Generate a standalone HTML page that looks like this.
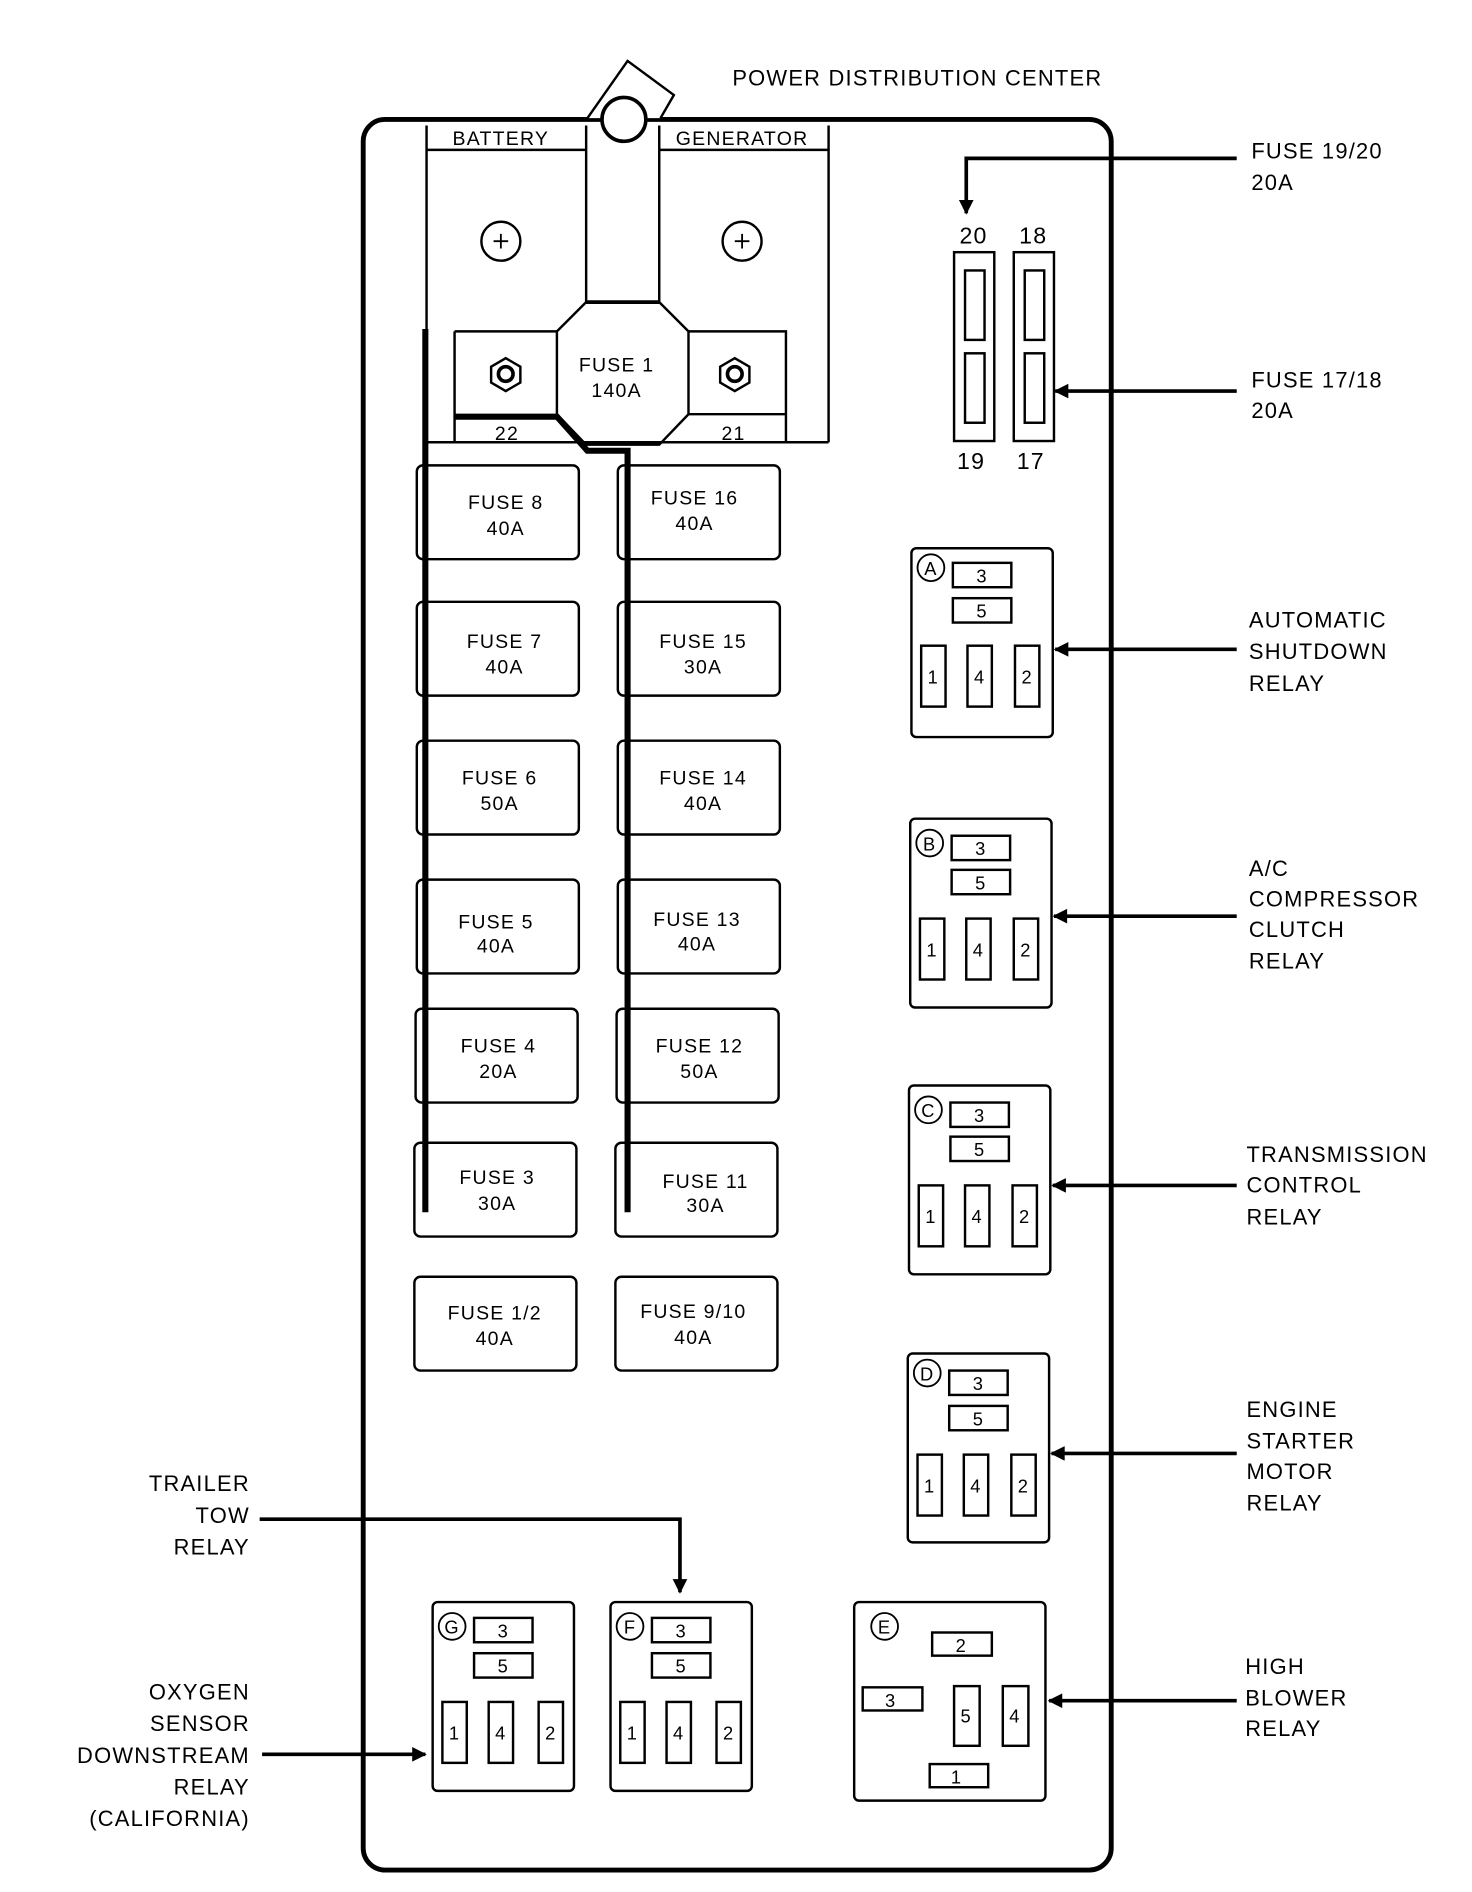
<!DOCTYPE html>
<html><head><meta charset="utf-8"><style>
html,body{margin:0;padding:0;background:#fff}
svg{display:block}
text{font-family:"Liberation Sans",sans-serif;fill:#000;letter-spacing:1px}
</style></head><body>
<svg width="1472" height="1892" viewBox="0 0 1208 1553" xmlns="http://www.w3.org/2000/svg">
<defs>
<marker id="ah" viewBox="0 0 10 10" refX="9" refY="5" markerWidth="16" markerHeight="12" orient="auto" markerUnits="userSpaceOnUse"><path d="M0,0L10,5L0,10z" fill="#000"/></marker>
</defs>
<g fill="none" stroke="#000">
<rect x="298" y="98" width="614" height="1437" rx="18" stroke-width="4"/>
<g fill="#fff" stroke-width="2"><path d="M482,97 L515,50 L553,78 L542,97"/></g>
<circle cx="512" cy="98" r="18" stroke-width="3" fill="#fff"/>
<g stroke-width="2">
<path d="M350,103V363M481,103V248M541,103V248M680,103V363M350,363H680"/>
<path d="M350,123H481M541,123H680"/>
<path d="M481,248H541L565,272V340L541,365H481L457,340V272Z" stroke-width="2"/>
<path d="M373,272H457M373,272V363M565,272H645V363M565,340H645"/>
<circle cx="411" cy="198" r="16"/><circle cx="609" cy="198" r="16"/>
<path d="M411,192v12M405,198h12M609,192v12M603,198h12" stroke-width="1.5"/>
<path d="M415,294l12,7v13l-12,7l-12,-7v-13z"/><circle cx="415" cy="307" r="6" stroke-width="3"/>
<path d="M603,294l12,7v13l-12,7l-12,-7v-13z"/><circle cx="603" cy="307" r="6" stroke-width="3"/>
</g>
<path d="M481,248H541" stroke-width="3"/>
<path d="M349,270V995" stroke-width="5"/>
<path d="M373,342H457L482,370H515V995" stroke-width="5"/>
<g stroke-width="2">
<rect x="342" y="382" width="133" height="77" rx="5"/>
<rect x="342" y="494" width="133" height="77" rx="5"/>
<rect x="342" y="608" width="133" height="77" rx="5"/>
<rect x="342" y="722" width="133" height="77" rx="5"/>
<rect x="341" y="828" width="133" height="77" rx="5"/>
<rect x="340" y="938" width="133" height="77" rx="5"/>
<rect x="340" y="1048" width="133" height="77" rx="5"/>
<rect x="507" y="382" width="133" height="77" rx="5"/>
<rect x="507" y="494" width="133" height="77" rx="5"/>
<rect x="507" y="608" width="133" height="77" rx="5"/>
<rect x="507" y="722" width="133" height="77" rx="5"/>
<rect x="506" y="828" width="133" height="77" rx="5"/>
<rect x="505" y="938" width="133" height="77" rx="5"/>
<rect x="505" y="1048" width="133" height="77" rx="5"/>
</g>
<g stroke-width="2">
<rect x="783" y="207" width="33" height="155"/><rect x="832" y="207" width="33" height="155"/>
<rect x="792" y="222" width="16" height="57"/><rect x="792" y="290" width="16" height="57"/>
<rect x="841" y="222" width="16" height="57"/><rect x="841" y="290" width="16" height="57"/>
</g>
<g stroke-width="2">
<rect x="748" y="450" width="116" height="155" rx="4"/>
<rect x="747" y="672" width="116" height="155" rx="4"/>
<rect x="746" y="891" width="116" height="155" rx="4"/>
<rect x="745" y="1111" width="116" height="155" rx="4"/>
<rect x="355" y="1315" width="116" height="155" rx="4"/>
<rect x="501" y="1315" width="116" height="155" rx="4"/>
<rect x="701" y="1315" width="157" height="163" rx="4"/>
</g>
<g stroke-width="3">
<path d="M1015,130H793V175" marker-end="url(#ah)"/>
<path d="M1015,321H866" marker-end="url(#ah)"/>
<path d="M1015,533H866" marker-end="url(#ah)"/>
<path d="M1015,752H865" marker-end="url(#ah)"/>
<path d="M1015,973H864" marker-end="url(#ah)"/>
<path d="M1015,1193H863" marker-end="url(#ah)"/>
<path d="M1015,1396H861" marker-end="url(#ah)"/>
<path d="M213,1247H558V1307" marker-end="url(#ah)"/>
<path d="M215,1440H349" marker-end="url(#ah)"/>
</g>
</g>
<g font-size="15" text-anchor="middle">
<g transform="translate(748,450)"><circle cx="16" cy="16" r="11" fill="none" stroke="#000" stroke-width="1.5"/><text x="16" y="22">A</text><rect x="34" y="12" width="48" height="20" fill="none" stroke="#000" stroke-width="2"/><text x="58" y="28">3</text><rect x="34" y="41" width="48" height="20" fill="none" stroke="#000" stroke-width="2"/><text x="58" y="57">5</text><rect x="8" y="80" width="20" height="50" fill="none" stroke="#000" stroke-width="2"/><text x="18" y="111">1</text><rect x="46" y="80" width="20" height="50" fill="none" stroke="#000" stroke-width="2"/><text x="56" y="111">4</text><rect x="85" y="80" width="20" height="50" fill="none" stroke="#000" stroke-width="2"/><text x="95" y="111">2</text></g>
<g transform="translate(747,672)"><circle cx="16" cy="20" r="11" fill="none" stroke="#000" stroke-width="1.5"/><text x="16" y="26">B</text><rect x="34" y="14" width="48" height="20" fill="none" stroke="#000" stroke-width="2"/><text x="58" y="30">3</text><rect x="34" y="42" width="48" height="20" fill="none" stroke="#000" stroke-width="2"/><text x="58" y="58">5</text><rect x="8" y="82" width="20" height="50" fill="none" stroke="#000" stroke-width="2"/><text x="18" y="113">1</text><rect x="46" y="82" width="20" height="50" fill="none" stroke="#000" stroke-width="2"/><text x="56" y="113">4</text><rect x="85" y="82" width="20" height="50" fill="none" stroke="#000" stroke-width="2"/><text x="95" y="113">2</text></g>
<g transform="translate(746,891)"><circle cx="16" cy="20" r="11" fill="none" stroke="#000" stroke-width="1.5"/><text x="16" y="26">C</text><rect x="34" y="14" width="48" height="20" fill="none" stroke="#000" stroke-width="2"/><text x="58" y="30">3</text><rect x="34" y="42" width="48" height="20" fill="none" stroke="#000" stroke-width="2"/><text x="58" y="58">5</text><rect x="8" y="82" width="20" height="50" fill="none" stroke="#000" stroke-width="2"/><text x="18" y="113">1</text><rect x="46" y="82" width="20" height="50" fill="none" stroke="#000" stroke-width="2"/><text x="56" y="113">4</text><rect x="85" y="82" width="20" height="50" fill="none" stroke="#000" stroke-width="2"/><text x="95" y="113">2</text></g>
<g transform="translate(745,1111)"><circle cx="16" cy="16" r="11" fill="none" stroke="#000" stroke-width="1.5"/><text x="16" y="22">D</text><rect x="34" y="14" width="48" height="20" fill="none" stroke="#000" stroke-width="2"/><text x="58" y="30">3</text><rect x="34" y="43" width="48" height="20" fill="none" stroke="#000" stroke-width="2"/><text x="58" y="59">5</text><rect x="8" y="83" width="20" height="50" fill="none" stroke="#000" stroke-width="2"/><text x="18" y="114">1</text><rect x="46" y="83" width="20" height="50" fill="none" stroke="#000" stroke-width="2"/><text x="56" y="114">4</text><rect x="85" y="83" width="20" height="50" fill="none" stroke="#000" stroke-width="2"/><text x="95" y="114">2</text></g>
<g transform="translate(355,1315)"><circle cx="16" cy="20" r="11" fill="none" stroke="#000" stroke-width="1.5"/><text x="16" y="26">G</text><rect x="34" y="13" width="48" height="20" fill="none" stroke="#000" stroke-width="2"/><text x="58" y="29">3</text><rect x="34" y="42" width="48" height="20" fill="none" stroke="#000" stroke-width="2"/><text x="58" y="58">5</text><rect x="8" y="82" width="20" height="50" fill="none" stroke="#000" stroke-width="2"/><text x="18" y="113">1</text><rect x="46" y="82" width="20" height="50" fill="none" stroke="#000" stroke-width="2"/><text x="56" y="113">4</text><rect x="87" y="82" width="20" height="50" fill="none" stroke="#000" stroke-width="2"/><text x="97" y="113">2</text></g>
<g transform="translate(501,1315)"><circle cx="16" cy="20" r="11" fill="none" stroke="#000" stroke-width="1.5"/><text x="16" y="26">F</text><rect x="34" y="13" width="48" height="20" fill="none" stroke="#000" stroke-width="2"/><text x="58" y="29">3</text><rect x="34" y="42" width="48" height="20" fill="none" stroke="#000" stroke-width="2"/><text x="58" y="58">5</text><rect x="8" y="82" width="20" height="50" fill="none" stroke="#000" stroke-width="2"/><text x="18" y="113">1</text><rect x="46" y="82" width="20" height="50" fill="none" stroke="#000" stroke-width="2"/><text x="56" y="113">4</text><rect x="87" y="82" width="20" height="50" fill="none" stroke="#000" stroke-width="2"/><text x="97" y="113">2</text></g>
<g transform="translate(701,1315)"><circle cx="25" cy="20" r="11" fill="none" stroke="#000" stroke-width="1.5"/><text x="25" y="26">E</text><rect x="64" y="25" width="49" height="19" fill="none" stroke="#000" stroke-width="2"/><text x="88" y="41">2</text><rect x="7" y="70" width="49" height="19" fill="none" stroke="#000" stroke-width="2"/><text x="30" y="86">3</text><rect x="82" y="69" width="21" height="49" fill="none" stroke="#000" stroke-width="2"/><text x="92" y="99">5</text><rect x="122" y="69" width="21" height="49" fill="none" stroke="#000" stroke-width="2"/><text x="132" y="99">4</text><rect x="62" y="133" width="48" height="19" fill="none" stroke="#000" stroke-width="2"/><text x="84" y="149">1</text></g>
</g>
<g font-size="16" text-anchor="middle">
<text x="411" y="119">BATTERY</text><text x="609" y="119">GENERATOR</text>
<text x="506" y="305">FUSE 1</text><text x="506" y="326">140A</text>
<text x="416" y="361">22</text><text x="602" y="361">21</text>
<text x="415" y="418">FUSE 8</text><text x="415" y="439">40A</text>
<text x="414" y="532">FUSE 7</text><text x="414" y="553">40A</text>
<text x="410" y="644">FUSE 6</text><text x="410" y="665">50A</text>
<text x="407" y="762">FUSE 5</text><text x="407" y="782">40A</text>
<text x="409" y="864">FUSE 4</text><text x="409" y="885">20A</text>
<text x="408" y="972">FUSE 3</text><text x="408" y="993">30A</text>
<text x="406" y="1083">FUSE 1/2</text><text x="406" y="1104">40A</text>
<text x="570" y="414">FUSE 16</text><text x="570" y="435">40A</text>
<text x="577" y="532">FUSE 15</text><text x="577" y="553">30A</text>
<text x="577" y="644">FUSE 14</text><text x="577" y="665">40A</text>
<text x="572" y="760">FUSE 13</text><text x="572" y="780">40A</text>
<text x="574" y="864">FUSE 12</text><text x="574" y="885">50A</text>
<text x="579" y="975">FUSE 11</text><text x="579" y="995">30A</text>
<text x="569" y="1082">FUSE 9/10</text><text x="569" y="1103">40A</text>
<text x="799" y="200" font-size="19">20</text><text x="848" y="200" font-size="19">18</text>
<text x="797" y="385" font-size="19">19</text><text x="846" y="385" font-size="19">17</text>
</g>
<g font-size="18">
<text x="601" y="70">POWER DISTRIBUTION CENTER</text>
<text x="1027" y="130">FUSE 19/20</text><text x="1027" y="156">20A</text>
<text x="1027" y="318">FUSE 17/18</text><text x="1027" y="343">20A</text>
<text x="1025" y="515">AUTOMATIC</text><text x="1025" y="541">SHUTDOWN</text><text x="1025" y="567">RELAY</text>
<text x="1025" y="719">A/C</text><text x="1025" y="744">COMPRESSOR</text><text x="1025" y="769">CLUTCH</text><text x="1025" y="795">RELAY</text>
<text x="1023" y="954">TRANSMISSION</text><text x="1023" y="979">CONTROL</text><text x="1023" y="1005">RELAY</text>
<text x="1023" y="1163">ENGINE</text><text x="1023" y="1189">STARTER</text><text x="1023" y="1214">MOTOR</text><text x="1023" y="1240">RELAY</text>
<text x="1022" y="1374">HIGH</text><text x="1022" y="1400">BLOWER</text><text x="1022" y="1425">RELAY</text>
</g>
<g font-size="18" text-anchor="end">
<text x="205" y="1224">TRAILER</text><text x="205" y="1250">TOW</text><text x="205" y="1276">RELAY</text>
<text x="205" y="1395">OXYGEN</text><text x="205" y="1421">SENSOR</text><text x="205" y="1447">DOWNSTREAM</text><text x="205" y="1473">RELAY</text><text x="205" y="1499">(CALIFORNIA)</text>
</g>
</svg>
</body></html>
